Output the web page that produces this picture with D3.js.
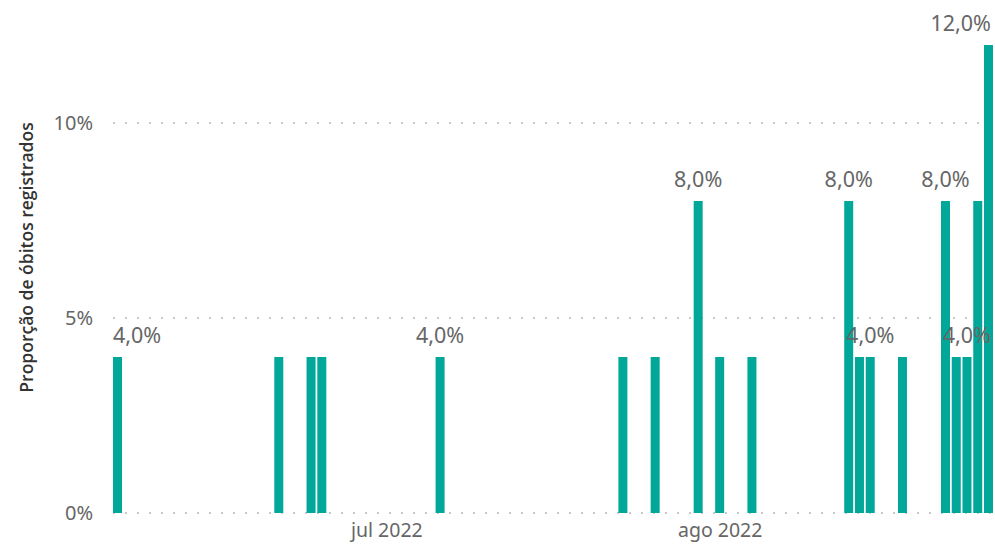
<!DOCTYPE html>
<html>
<head>
<meta charset="utf-8">
<script src="https://cdn.jsdelivr.net/npm/d3@7"></script>
<style>
  html, body { margin: 0; padding: 0; background: #ffffff; }
  svg { display: block; }
  text { font-family: "Segoe UI", "Noto Sans", "Open Sans", sans-serif; }
</style>
</head>
<body>
<svg id="chart" width="995" height="546"></svg>
<script>
// ---- data ----
const dates = ["2022-06-06","2022-06-21","2022-06-24","2022-06-25","2022-07-06",
  "2022-07-23","2022-07-26","2022-07-30","2022-08-01","2022-08-04",
  "2022-08-13","2022-08-14","2022-08-15","2022-08-18","2022-08-22",
  "2022-08-23","2022-08-24","2022-08-25","2022-08-26"];
const values = [4,4,4,4,4, 4,4,8,4,4, 8,4,4,4,8, 4,4,8,12];
const showLabel = [true,false,false,false,true, false,false,true,false,false,
  true,false,true,false,true, false,true,false,true];
const yTicks = [0, 5, 10];
const monthNames = ["jan","fev","mar","abr","mai","jun","jul","ago","set","out","nov","dez"];
const yTitle = "Proporção de óbitos registrados";

// ---- layout ----
const W = 995, H = 546;
const plotLeft = 113, plotRight = 993, baseY = 513;
const parse = d3.utcParse("%Y-%m-%d");
const data = dates.map((d, i) => ({ date: parse(d), value: values[i], label: showLabel[i] }));

const x = d3.scaleUtc()
  .domain([parse("2022-06-06"), parse("2022-08-26")])
  .range([117.5, 988.5]);
const barW = 9;

const y = d3.scaleLinear().domain([0, 12]).range([baseY, 45]);

const svg = d3.select("#chart");

// gridlines
svg.append("g").selectAll("line").data(yTicks).join("line")
  .attr("x1", plotLeft).attr("x2", plotRight)
  .attr("y1", d => y(d)).attr("y2", d => y(d))
  .attr("stroke", "#c8c8c8").attr("stroke-width", 2)
  .attr("stroke-dasharray", "2,10");

// y axis
const yAxis = d3.axisLeft(y).tickValues(yTicks).tickFormat(d => d + "%").tickSize(0).tickPadding(0);
const gy = svg.append("g").attr("transform", "translate(93,0)").call(yAxis);
gy.select(".domain").remove();
gy.selectAll("text").attr("font-size", 20).attr("fill", "#666666")
  .attr("font-family", "'Segoe UI','Noto Sans',sans-serif");

// x axis
const xAxis = d3.axisBottom(x).ticks(d3.utcMonth.every(1))
  .tickFormat(d => monthNames[d.getUTCMonth()] + " " + d.getUTCFullYear())
  .tickSize(0).tickPadding(0);
const gx = svg.append("g").attr("transform", `translate(0,${baseY + 10})`).call(xAxis);
gx.select(".domain").remove();
gx.selectAll("text").attr("font-size", 19.5).attr("fill", "#666666")
  .attr("font-family", "'Segoe UI','Noto Sans',sans-serif");

// bars
svg.append("g").selectAll("rect").data(data).join("rect")
  .attr("x", d => x(d.date) - barW / 2)
  .attr("width", barW)
  .attr("y", d => y(d.value))
  .attr("height", d => baseY - y(d.value))
  .attr("fill", "#01A89A");

// data labels
const fmt = v => d3.format(".1f")(v).replace(".", ",") + "%";
const lbl = svg.append("g").selectAll("text").data(data.filter(d => d.label)).join("text")
  .attr("font-size", 21.5)
  .attr("fill", "#666666")
  .attr("text-anchor", "middle")
  .attr("y", d => y(d.value) - 14)
  .attr("x", d => x(d.date))
  .text(d => fmt(d.value));
lbl.each(function(d) {
  const w = this.getComputedTextLength();
  let cx = x(d.date);
  if (cx - w / 2 < plotLeft) cx = plotLeft + w / 2;
  if (cx + w / 2 > plotRight - 2) cx = plotRight - 2 - w / 2;
  d3.select(this).attr("x", cx);
});

// y title
svg.append("text")
  .attr("transform", `translate(33,${baseY / 2 + 1}) rotate(-90)`)
  .attr("text-anchor", "middle")
  .attr("font-size", 17.5)
  .attr("font-weight", 600)
  .attr("fill", "#333333")
  .style("font-family", "'Open Sans','Noto Sans',sans-serif")
  .text(yTitle);
</script>
</body>
</html>
